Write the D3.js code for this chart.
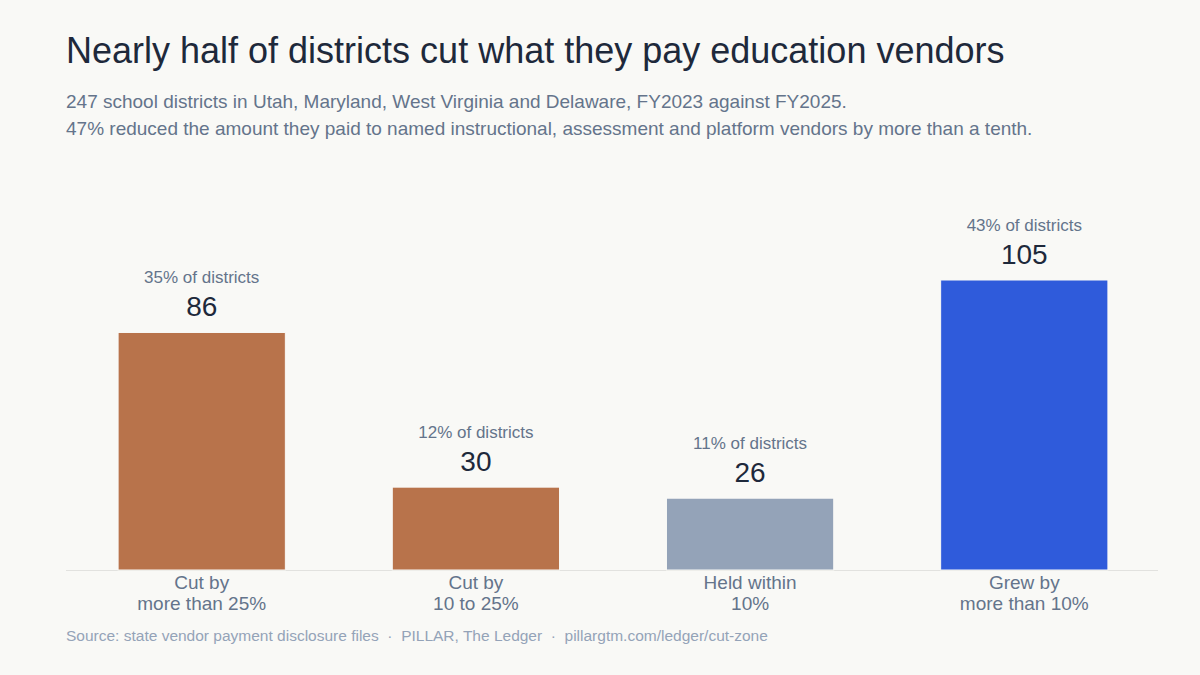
<!DOCTYPE html>
<html>
<head>
<meta charset="utf-8">
<script src="https://cdn.jsdelivr.net/npm/d3@7"></script>
<style>
  html, body { margin: 0; padding: 0; background: #f9f9f6; }
  svg { display: block; font-family: "Liberation Sans", Arial, Helvetica, sans-serif; }
</style>
</head>
<body>
<div id="chart"></div>
<script>
// data
const categories = ["Cut by\nmore than 25%", "Cut by\n10 to 25%", "Held within\n10%", "Grew by\nmore than 10%"]
const counts = [86, 30, 26, 105]
const shares = ["35% of districts", "12% of districts", "11% of districts", "43% of districts"]
const barColors = ["#b8734b", "#b8734b", "#94a3b8", "#2f5bdb"]

const title = "Nearly half of districts cut what they pay education vendors"
const subtitle = [
    "247 school districts in Utah, Maryland, West Virginia and Delaware, FY2023 against FY2025.",
    "47% reduced the amount they paid to named instructional, assessment and platform vendors by more than a tenth."
]
const source = "Source: state vendor payment disclosure files  \u00b7  PILLAR, The Ledger  \u00b7  pillargtm.com/ledger/cut-zone"

function drawChart() {
    let width = 1200
    let height = 675
    let baseY = 570

    let svg = d3.select("#chart").append("svg")
        .attr("width", width)
        .attr("height", height)

    svg.append("rect")
        .attr("width", width).attr("height", height)
        .attr("fill", "#f9f9f6")

    // header
    svg.append("text")
        .attr("x", 66).attr("y", 63)
        .attr("fill", "#1e293b")
        .style("font-size", "36px")
        .text(title)

    svg.append("g").selectAll("text")
        .data(subtitle)
        .join("text")
        .attr("x", 66)
        .attr("y", (d, i) => 108 + i * 27)
        .attr("fill", "#64748b")
        .style("font-size", "19px")
        .text(d => d)

    let x = d3.scaleBand()
        .domain(categories)
        .range([66, 1160])
        .paddingInner(0.39)
        .paddingOuter(0.19)

    let y = d3.scaleLinear()
        .domain([0, d3.max(counts)])
        .range([baseY, 280])

    let rows = categories.map((c, i) => ({ cat: c, n: counts[i], share: shares[i], color: barColors[i] }))

    // baseline
    svg.append("line")
        .attr("x1", 66).attr("x2", 1158)
        .attr("y1", baseY + 0.5).attr("y2", baseY + 0.5)
        .attr("stroke", "#e2e2df")
        .attr("stroke-width", 1.2)

    let bars = svg.append("g")
    bars.selectAll("rect")
        .data(rows)
        .join("rect")
        .attr("x", d => x(d.cat))
        .attr("y", d => y(d.n))
        .attr("width", x.bandwidth())
        .attr("height", d => baseY - y(d.n))
        .attr("fill", d => d.color)
        .attr("stroke", "#f9f9f6")
        .attr("stroke-width", 1)

    // value labels
    bars.selectAll("text.num")
        .data(rows)
        .join("text")
        .attr("class", "num")
        .attr("x", d => x(d.cat) + x.bandwidth() / 2)
        .attr("y", d => y(d.n) - 16)
        .attr("text-anchor", "middle")
        .attr("fill", "#1e293b")
        .style("font-size", "28px")
        .text(d => d.n)

    bars.selectAll("text.share")
        .data(rows)
        .join("text")
        .attr("class", "share")
        .attr("x", d => x(d.cat) + x.bandwidth() / 2)
        .attr("y", d => y(d.n) - 49)
        .attr("text-anchor", "middle")
        .attr("fill", "#64748b")
        .style("font-size", "17px")
        .text(d => d.share)

    // category labels, two lines each
    let catG = svg.append("g")
    rows.forEach(d => {
        let t = catG.append("text")
            .attr("text-anchor", "middle")
            .attr("fill", "#64748b")
            .style("font-size", "19px")
        d.cat.split("\n").forEach((line, i) => {
            t.append("tspan")
                .attr("x", x(d.cat) + x.bandwidth() / 2)
                .attr("y", 589 + i * 21)
                .text(line)
        })
    })

    svg.append("text")
        .attr("x", 66).attr("y", 641)
        .attr("fill", "#94a3b8")
        .style("font-size", "15.5px")
        .style("white-space", "pre")
        .attr("xml:space", "preserve")
        .text(source)
}

drawChart()
</script>
</body>
</html>
